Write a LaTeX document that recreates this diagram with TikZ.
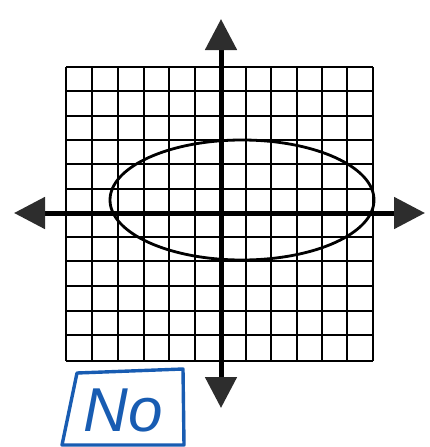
\documentclass[tikz,border=0pt]{standalone}
\usepackage{fontspec}
\setmainfont{Liberation Sans}
\usetikzlibrary{arrows.meta}
\definecolor{penblue}{RGB}{24,92,178}
\definecolor{tipgrey}{RGB}{45,45,45}
\begin{document}
\begin{tikzpicture}[x=1pt,y=-1pt,
  gridline/.style={line width=2.8pt,black},
  axisline/.style={line width=5pt,black,-{Triangle[length=31pt,width=31pt,fill=tipgrey,color=tipgrey]}},
  curve/.style={line width=2.8pt,black},
  pen/.style={line width=3.4pt,penblue,line join=round,line cap=round}]
\useasboundingbox (0,0) rectangle (429,447);
% grid
\foreach \x in {66,92,118,144,169,195,246,271,297,322,347,373}
  \draw[gridline] (\x,67) -- (\x,361);
\foreach \y in {67,91,116,140,164,189,237,261,286,311,335,361}
  \draw[gridline] (66,\y) -- (373,\y);
% axes
\coordinate (o) at (221,213);
\coordinate (top) at (221,19);
\coordinate (bot) at (221,408);
\coordinate (left) at (14,213);
\coordinate (right) at (425,213);
\draw[axisline] (o) -- (top);
\draw[axisline] (o) -- (bot);
\draw[axisline] (o) -- (left);
\draw[axisline] (o) -- (right);
% ellipse
\draw[curve] (242,200) ellipse [x radius=132, y radius=60];
% No box
\coordinate (b1) at (77,373);
\coordinate (b2) at (183,369);
\coordinate (b3) at (184,445);
\coordinate (b4) at (62,445);
\draw[pen] (b1) -- (b2) -- (b3) -- (b4) -- cycle;
\node[penblue,font=\fontsize{62}{62}\selectfont\itshape,inner sep=0pt] (no) at (123,410) {No};
\end{tikzpicture}
\end{document}
